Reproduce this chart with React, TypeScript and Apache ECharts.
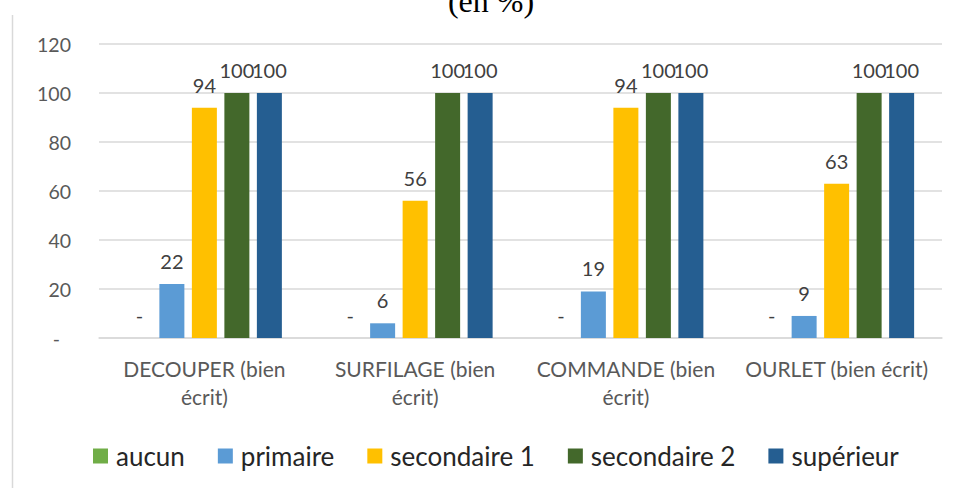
import React, { useEffect, useRef } from "react";
import * as echarts from "echarts";

const categories = [
  "DECOUPER (bien\nécrit)",
  "SURFILAGE (bien\nécrit)",
  "COMMANDE (bien\nécrit)",
  "OURLET (bien écrit)",
];
const seriesNames = ["aucun", "primaire", "secondaire 1", "secondaire 2", "supérieur"];
const aucun = [0, 0, 0, 0];
const primaire = [22, 6, 19, 9];
const secondaire1 = [94, 56, 94, 63];
const secondaire2 = [100, 100, 100, 100];
const superieur = [100, 100, 100, 100];
const colors = ["#70AD47", "#5B9BD5", "#FFC000", "#43682B", "#255E91"];
const yTicks = [0, 20, 40, 60, 80, 100, 120];
const titleText = "(en %)";

const FONT = "Lato";

export default function App() {
  const ref = useRef<HTMLDivElement>(null);
  useEffect(() => {
    if (!ref.current) return;
    const chart = echarts.init(ref.current, undefined, { renderer: "svg" });
    const data = [aucun, primaire, secondaire1, secondaire2, superieur];
    const series = data.map((d, i) => ({
      name: seriesNames[i],
      type: "bar",
      data: d,
      barWidth: 25,
      barGap: "30%",
      itemStyle: { color: colors[i] },
      label: {
        show: true,
        position: "top",
        distance: 13,
        color: "#404040",
        fontFamily: FONT,
        fontSize: 20,
        formatter: (p: any) => (p.value === 0 ? "-" : String(p.value)),
      },
    }));
    chart.setOption({
      animation: false,
      color: colors,
      grid: { left: 99, right: 15, top: 44, bottom: 150, containLabel: false },
      xAxis: {
        type: "category",
        data: categories,
        axisTick: { show: false },
        axisLine: { lineStyle: { color: "#d9d9d9", width: 1.5 } },
        axisLabel: {
          color: "#595959",
          fontFamily: FONT,
          fontSize: 21,
          lineHeight: 28,
          margin: 16,
          interval: 0,
        },
      },
      yAxis: {
        type: "value",
        min: yTicks[0],
        max: yTicks[yTicks.length - 1],
        interval: 20,
        axisLine: { show: false },
        axisTick: { show: false },
        splitLine: { lineStyle: { color: "#d9d9d9", width: 1.5 } },
        axisLabel: {
          color: "#595959",
          fontFamily: FONT,
          fontSize: 19.5,
          margin: 28,
          formatter: (v: number) => (v === 0 ? "{d|-}" : String(v)),
          rich: {
            d: { color: "#595959", fontFamily: FONT, fontSize: 19.5, padding: [0, 11, 0, 0] },
          },
        },
      },
      legend: {
        data: seriesNames,
        left: 93,
        top: 443,
        padding: 0,
        icon: "rect",
        itemWidth: 15,
        itemHeight: 15,
        itemGap: 33,
        textStyle: {
          color: "#262626",
          fontFamily: FONT,
          fontSize: 26,
          lineHeight: 26,
          padding: [0, 0, 0, 3],
        },
      },
      graphic: [
        {
          type: "line",
          shape: { x1: 12.5, y1: 15, x2: 12.5, y2: 488 },
          style: { stroke: "#d9d9d9", lineWidth: 1.5 },
          silent: true,
        },
        {
          type: "text",
          x: 491,
          y: 1,
          style: {
            text: titleText,
            fill: "#000",
            font: "32px 'Liberation Serif', 'Times New Roman', serif",
            textAlign: "center",
            textVerticalAlign: "middle",
          },
          silent: true,
        },
      ],
      series,
    });
    return () => chart.dispose();
  }, []);
  return (
    <div
      ref={ref}
      style={{ position: "fixed", left: 0, top: 0, width: 957, height: 488, background: "#fff" }}
    />
  );
}
